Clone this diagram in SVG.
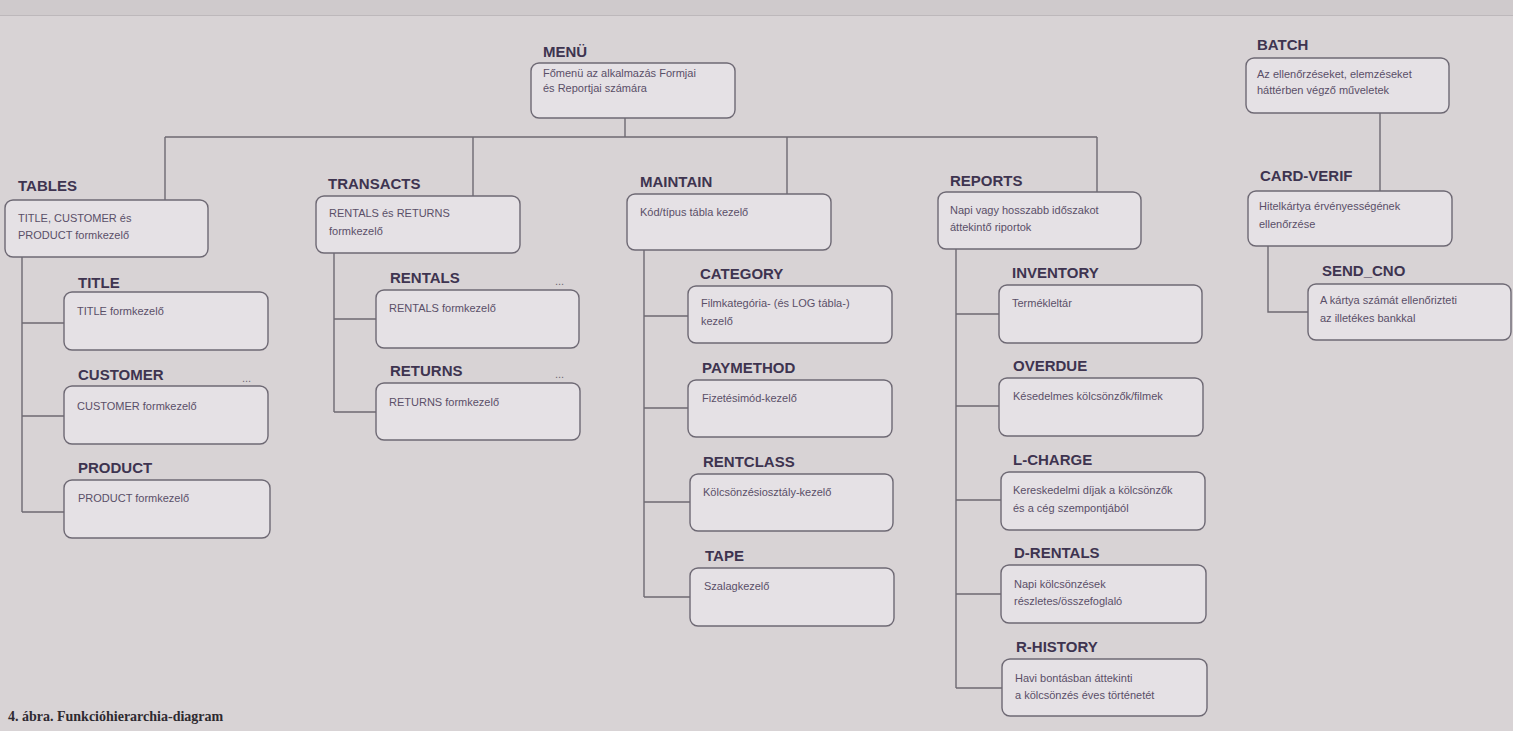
<svg xmlns="http://www.w3.org/2000/svg" width="1513" height="731" viewBox="0 0 1513 731">
<style>
.bg{fill:#d8d3d5}
.box{fill:#e5e1e5;stroke:#6e6974;stroke-width:1.4}
.h{font-family:"Liberation Sans",Arial,sans-serif;font-weight:bold;font-size:15px;fill:#3e3450}
.t{font-family:"Liberation Sans",Arial,sans-serif;font-size:11px;fill:#5a4f68}
.dots{font-family:"Liberation Sans",Arial,sans-serif;font-size:11px;fill:#6e6974}
.c{fill:none;stroke:#6e6a72;stroke-width:1.4}
.cap{font-family:"Liberation Serif","Times New Roman",serif;font-weight:bold;font-size:14px;fill:#2e2a30}
</style>
<rect class="bg" x="0" y="0" width="1513" height="731"/>
<rect x="0" y="0" width="1513" height="15" fill="#cfcacc"/>
<line x1="0" y1="15.5" x2="1513" y2="15.5" stroke="#bdb8bb" stroke-width="1"/>

<g id="connectors">
<path class="c" d="M625 118V137M165 137H1097M165 137V200M473 137V196M787 137V194M1097 137V192"/>
<path class="c" d="M22 257V512M22 323H64M22 416H64M22 512H64"/>
<path class="c" d="M334 253V412M334 319H376M334 412H376"/>
<path class="c" d="M644 250V597M644 316H688M644 408H688M644 502H690M644 597H690"/>
<path class="c" d="M956 249V688M956 314H999M956 406H999M956 500H1001M956 594H1001M956 688H1002"/>
<path class="c" d="M1380 113V191M1268 246V312H1308"/>
</g>

<g id="menu">
<text class="h" x="543" y="57">MENÜ</text>
<rect class="box" x="531" y="63" width="204" height="55" rx="8"/>
<text class="t" x="543" y="77">Főmenü az alkalmazás Formjai</text>
<text class="t" x="543" y="92">és Reportjai számára</text>
</g>

<g id="batch">
<text class="h" x="1257" y="50">BATCH</text>
<rect class="box" x="1246" y="58" width="203" height="55" rx="8"/>
<text class="t" x="1257" y="78">Az ellenőrzéseket, elemzéseket</text>
<text class="t" x="1257" y="94">háttérben végző műveletek</text>
</g>

<g id="card-verif">
<text class="h" x="1260" y="181">CARD-VERIF</text>
<rect class="box" x="1248" y="191" width="204" height="55" rx="8"/>
<text class="t" x="1259" y="210">Hitelkártya érvényességének</text>
<text class="t" x="1259" y="228">ellenőrzése</text>
</g>

<g id="send-cno">
<text class="h" x="1322" y="276">SEND_CNO</text>
<rect class="box" x="1308" y="284" width="203" height="56" rx="8"/>
<text class="t" x="1320" y="304">A kártya számát ellenőrizteti</text>
<text class="t" x="1320" y="322">az illetékes bankkal</text>
</g>

<g id="tables">
<text class="h" x="18" y="191">TABLES</text>
<rect class="box" x="5" y="200" width="203" height="57" rx="8"/>
<text class="t" x="18" y="222">TITLE, CUSTOMER és</text>
<text class="t" x="18" y="239">PRODUCT formkezelő</text>
</g>

<g id="title">
<text class="h" x="78" y="288">TITLE</text>
<rect class="box" x="64" y="292" width="204" height="58" rx="8"/>
<text class="t" x="77" y="315">TITLE formkezelő</text>
</g>

<g id="customer">
<text class="h" x="78" y="380">CUSTOMER</text>
<text class="dots" x="242" y="382">...</text>
<rect class="box" x="64" y="386" width="204" height="58" rx="8"/>
<text class="t" x="77" y="410">CUSTOMER formkezelő</text>
</g>

<g id="product">
<text class="h" x="78" y="473">PRODUCT</text>
<rect class="box" x="64" y="480" width="206" height="58" rx="8"/>
<text class="t" x="78" y="502">PRODUCT formkezelő</text>
</g>

<g id="transacts">
<text class="h" x="328" y="189">TRANSACTS</text>
<rect class="box" x="316" y="196" width="204" height="57" rx="8"/>
<text class="t" x="329" y="217">RENTALS és RETURNS</text>
<text class="t" x="329" y="235">formkezelő</text>
</g>

<g id="rentals">
<text class="h" x="390" y="283">RENTALS</text>
<text class="dots" x="555" y="285">...</text>
<rect class="box" x="376" y="290" width="203" height="58" rx="8"/>
<text class="t" x="389" y="312">RENTALS formkezelő</text>
</g>

<g id="returns">
<text class="h" x="390" y="376">RETURNS</text>
<text class="dots" x="555" y="378">...</text>
<rect class="box" x="376" y="383" width="204" height="57" rx="8"/>
<text class="t" x="389" y="406">RETURNS formkezelő</text>
</g>

<g id="maintain">
<text class="h" x="640" y="187">MAINTAIN</text>
<rect class="box" x="627" y="194" width="204" height="56" rx="8"/>
<text class="t" x="640" y="216">Kód/típus tábla kezelő</text>
</g>

<g id="category">
<text class="h" x="700" y="279">CATEGORY</text>
<rect class="box" x="688" y="286" width="204" height="57" rx="8"/>
<text class="t" x="701" y="307">Filmkategória- (és LOG tábla-)</text>
<text class="t" x="701" y="325">kezelő</text>
</g>

<g id="paymethod">
<text class="h" x="702" y="373">PAYMETHOD</text>
<rect class="box" x="688" y="380" width="204" height="57" rx="8"/>
<text class="t" x="702" y="402">Fizetésimód-kezelő</text>
</g>

<g id="rentclass">
<text class="h" x="703" y="467">RENTCLASS</text>
<rect class="box" x="690" y="474" width="203" height="57" rx="8"/>
<text class="t" x="703" y="496">Kölcsönzésiosztály-kezelő</text>
</g>

<g id="tape">
<text class="h" x="705" y="561">TAPE</text>
<rect class="box" x="690" y="568" width="204" height="58" rx="8"/>
<text class="t" x="704" y="590">Szalagkezelő</text>
</g>

<g id="reports">
<text class="h" x="950" y="186">REPORTS</text>
<rect class="box" x="938" y="192" width="203" height="57" rx="8"/>
<text class="t" x="950" y="214">Napi vagy hosszabb időszakot</text>
<text class="t" x="950" y="231">áttekintő riportok</text>
</g>

<g id="inventory">
<text class="h" x="1012" y="278">INVENTORY</text>
<rect class="box" x="999" y="285" width="203" height="58" rx="8"/>
<text class="t" x="1012" y="307">Termékleltár</text>
</g>

<g id="overdue">
<text class="h" x="1013" y="371">OVERDUE</text>
<rect class="box" x="999" y="378" width="204" height="58" rx="8"/>
<text class="t" x="1013" y="400">Késedelmes kölcsönzők/filmek</text>
</g>

<g id="l-charge">
<text class="h" x="1013" y="465">L-CHARGE</text>
<rect class="box" x="1001" y="472" width="204" height="58" rx="8"/>
<text class="t" x="1013" y="494">Kereskedelmi díjak a kölcsönzők</text>
<text class="t" x="1013" y="512">és a cég szempontjából</text>
</g>

<g id="d-rentals">
<text class="h" x="1014" y="558">D-RENTALS</text>
<rect class="box" x="1001" y="565" width="205" height="58" rx="8"/>
<text class="t" x="1014" y="588">Napi kölcsönzések</text>
<text class="t" x="1014" y="605">részletes/összefoglaló</text>
</g>

<g id="r-history">
<text class="h" x="1016" y="652">R-HISTORY</text>
<rect class="box" x="1002" y="659" width="205" height="57" rx="8"/>
<text class="t" x="1015" y="682">Havi bontásban áttekinti</text>
<text class="t" x="1015" y="699">a kölcsönzés éves történetét</text>
</g>

<text class="cap" x="8" y="721">4. ábra. Funkcióhierarchia-diagram</text>
</svg>
